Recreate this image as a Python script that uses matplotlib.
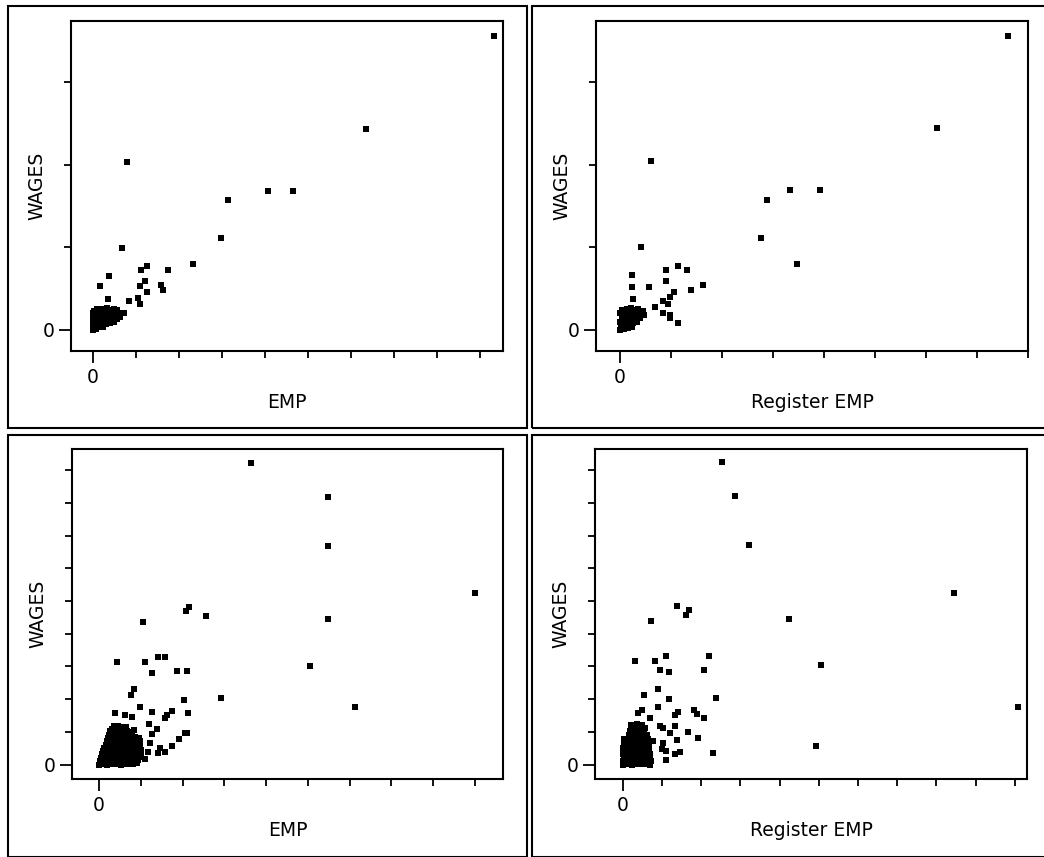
"""
Four WAGES vs EMP scatter panels (EMP and Register EMP), two datasets
"""
import matplotlib
matplotlib.use('Agg')
import matplotlib.pyplot as plt
import matplotlib.patches as patches

W, H = 1044, 857

plt.rcParams['font.family'] = ['DejaVu Sans']
FONT_SIZE = 13.5

# values are in tick steps (axes show only the 0 label)

# top row: first dataset
tl_points = [
    (9.33, 3.56), (6.35, 2.44), (0.79, 2.03), (4.06, 1.68), (4.65, 1.68),
    (3.14, 1.57), (2.98, 1.11), (0.67, 0.99), (2.33, 0.80), (1.25, 0.77),
    (1.12, 0.73), (1.74, 0.73), (0.37, 0.66), (0.16, 0.53), (1.21, 0.59),
    (1.09, 0.53), (1.58, 0.55), (1.63, 0.48), (1.26, 0.46), (0.34, 0.37),
    (0.84, 0.35), (1.05, 0.39), (1.09, 0.32),
]
tl_cluster = [
    (0.00, 0.00), (0.00, 0.05), (0.01, 0.10), (0.00, 0.15), (0.01, 0.20), (0.03, 0.23),
    (0.07, 0.01), (0.08, 0.06), (0.06, 0.11), (0.09, 0.16), (0.07, 0.21), (0.10, 0.25),
    (0.15, 0.03), (0.16, 0.08), (0.14, 0.13), (0.17, 0.18), (0.15, 0.22), (0.19, 0.26),
    (0.23, 0.04), (0.24, 0.10), (0.22, 0.15), (0.25, 0.20), (0.27, 0.25),
    (0.31, 0.07), (0.32, 0.12), (0.30, 0.17), (0.34, 0.22), (0.33, 0.27),
    (0.40, 0.08), (0.41, 0.14), (0.39, 0.19), (0.42, 0.24),
    (0.48, 0.10), (0.49, 0.16), (0.47, 0.21), (0.50, 0.26),
    (0.56, 0.13), (0.57, 0.19), (0.55, 0.24),
    (0.64, 0.16), (0.65, 0.21), (0.72, 0.20),
]

tr_points = [
    (7.61, 3.56), (6.22, 2.45), (0.61, 2.05), (2.88, 1.58), (3.33, 1.70),
    (3.92, 1.70), (2.76, 1.12), (3.47, 0.80), (0.41, 1.00), (1.14, 0.78),
    (1.32, 0.73), (0.90, 0.73), (0.23, 0.67), (0.90, 0.59), (0.23, 0.52),
    (0.57, 0.52), (1.63, 0.55), (1.39, 0.48), (1.05, 0.46), (0.98, 0.40),
    (0.26, 0.37), (0.84, 0.35), (0.69, 0.28), (0.94, 0.32), (0.85, 0.21),
    (0.98, 0.18), (0.98, 0.15), (1.14, 0.08),
]
tr_cluster = [
    (0.00, 0.00), (0.02, 0.05), (0.00, 0.10), (0.03, 0.15), (0.01, 0.20), (0.04, 0.24),
    (0.08, 0.01), (0.10, 0.06), (0.07, 0.11), (0.09, 0.16), (0.11, 0.21), (0.13, 0.26),
    (0.16, 0.02), (0.18, 0.07), (0.15, 0.12), (0.19, 0.17), (0.17, 0.22), (0.22, 0.27),
    (0.24, 0.04), (0.26, 0.09), (0.23, 0.14), (0.27, 0.19), (0.28, 0.24),
    (0.33, 0.10), (0.31, 0.15), (0.35, 0.20), (0.36, 0.25),
    (0.40, 0.14), (0.42, 0.19), (0.47, 0.18), (0.45, 0.23),
]

# bottom row: second dataset
bl_points = [
    (3.64, 9.23), (5.48, 8.19), (5.48, 6.68), (5.48, 4.45), (5.05, 3.01),
    (9.00, 5.25), (6.12, 1.76), (2.91, 2.02),
    (2.08, 4.70), (2.16, 4.83), (2.56, 4.54), (1.06, 4.37), (0.42, 3.14),
    (1.10, 3.14), (1.42, 3.30), (1.58, 3.30), (1.28, 2.81), (1.87, 2.87),
    (2.10, 2.87), (0.84, 2.30), (0.76, 2.13), (2.04, 1.97), (0.98, 1.75),
    (0.38, 1.57), (1.28, 1.61), (1.74, 1.64), (1.62, 1.51), (1.58, 1.41),
    (2.14, 1.57), (0.62, 1.51), (0.78, 1.46), (1.20, 1.24), (1.40, 1.08),
    (1.28, 0.93), (2.06, 0.95), (2.10, 0.97), (1.91, 0.79), (1.74, 0.57),
    (1.22, 0.67), (1.46, 0.51), (1.58, 0.39), (1.42, 0.34), (1.18, 0.39),
    (1.10, 0.16),
]
bl_cluster = [
    (0.00, 0.00), (0.11, 0.02), (0.20, 0.00), (0.31, 0.03), (0.40, 0.01), (0.52, 0.00),
    (0.61, 0.02), (0.70, 0.01), (0.81, 0.03), (0.90, 0.05),
    (0.03, 0.11), (0.15, 0.10), (0.27, 0.12), (0.38, 0.09), (0.49, 0.11), (0.60, 0.12),
    (0.72, 0.10), (0.84, 0.12), (0.94, 0.13),
    (0.05, 0.21), (0.16, 0.19), (0.25, 0.22), (0.36, 0.20), (0.45, 0.18), (0.56, 0.21),
    (0.65, 0.23), (0.76, 0.20), (0.86, 0.22), (0.97, 0.24),
    (0.08, 0.31), (0.19, 0.30), (0.31, 0.32), (0.43, 0.29), (0.54, 0.31), (0.66, 0.30),
    (0.78, 0.32), (0.90, 0.31), (1.00, 0.33),
    (0.10, 0.41), (0.21, 0.39), (0.30, 0.42), (0.41, 0.40), (0.50, 0.38), (0.61, 0.41),
    (0.70, 0.43), (0.81, 0.40), (0.92, 0.42), (1.01, 0.45),
    (0.13, 0.51), (0.25, 0.50), (0.37, 0.52), (0.49, 0.49), (0.62, 0.51), (0.74, 0.50),
    (0.86, 0.52), (0.98, 0.54),
    (0.16, 0.61), (0.27, 0.59), (0.36, 0.62), (0.47, 0.60), (0.56, 0.58), (0.67, 0.61),
    (0.77, 0.63), (0.88, 0.60), (0.98, 0.64),
    (0.19, 0.71), (0.30, 0.70), (0.41, 0.72), (0.52, 0.69), (0.63, 0.71), (0.75, 0.70),
    (0.87, 0.73), (0.97, 0.72),
    (0.22, 0.81), (0.33, 0.79), (0.42, 0.82), (0.53, 0.80), (0.62, 0.78), (0.73, 0.81),
    (0.85, 0.84), (0.96, 0.80),
    (0.25, 0.91), (0.36, 0.90), (0.47, 0.92), (0.58, 0.89), (0.69, 0.91), (0.80, 0.92),
    (0.27, 1.01), (0.38, 0.99), (0.47, 1.02), (0.58, 1.00), (0.67, 1.03), (0.77, 1.00),
    (0.31, 1.08), (0.42, 1.10), (0.62, 1.09), (0.84, 1.06),
    (0.35, 1.17), (0.45, 1.18), (0.55, 1.16), (0.65, 1.15),
]

br_points = [
    (2.53, 9.24), (2.86, 8.20), (3.21, 6.70), (4.23, 4.46), (5.05, 3.03),
    (8.44, 5.26), (10.08, 1.77), (4.94, 0.58),
    (1.37, 4.84), (1.69, 4.74), (1.60, 4.56), (0.73, 4.38), (0.31, 3.16),
    (0.82, 3.16), (1.10, 3.33), (2.19, 3.33), (0.96, 2.88), (1.18, 2.82),
    (2.07, 2.88), (0.90, 2.31), (0.54, 2.14), (2.37, 2.04), (1.18, 1.99),
    (0.90, 1.75), (0.49, 1.68), (0.39, 1.58), (1.41, 1.60), (1.33, 1.50),
    (1.82, 1.68), (1.88, 1.53), (2.07, 1.43), (0.69, 1.43), (1.33, 1.17),
    (0.94, 1.19), (1.03, 1.12), (1.20, 0.97), (1.67, 0.99), (1.92, 0.82),
    (1.37, 0.74), (1.03, 0.66), (0.77, 0.71), (0.99, 0.46), (1.10, 0.41),
    (1.33, 0.33), (1.45, 0.38), (2.29, 0.36), (1.10, 0.13),
]
br_cluster = [
    (0.00, 0.00), (0.12, 0.02), (0.24, 0.00), (0.36, 0.03), (0.48, 0.01), (0.60, 0.02), (0.70, 0.00),
    (0.01, 0.10), (0.13, 0.11), (0.25, 0.09), (0.37, 0.12), (0.49, 0.10), (0.61, 0.11), (0.71, 0.12),
    (0.02, 0.21), (0.14, 0.19), (0.26, 0.22), (0.38, 0.20), (0.50, 0.18), (0.62, 0.21), (0.70, 0.23),
    (0.01, 0.31), (0.13, 0.30), (0.25, 0.32), (0.37, 0.29), (0.49, 0.31), (0.61, 0.30), (0.69, 0.33),
    (0.00, 0.41), (0.12, 0.39), (0.24, 0.42), (0.36, 0.40), (0.48, 0.38), (0.60, 0.41), (0.68, 0.43),
    (0.01, 0.51), (0.13, 0.50), (0.25, 0.52), (0.37, 0.49), (0.49, 0.51), (0.61, 0.50), (0.67, 0.53),
    (0.02, 0.61), (0.14, 0.59), (0.26, 0.62), (0.38, 0.60), (0.50, 0.58), (0.62, 0.61),
    (0.03, 0.70), (0.15, 0.71), (0.27, 0.69), (0.39, 0.72), (0.51, 0.70), (0.63, 0.71),
    (0.04, 0.79), (0.16, 0.81), (0.28, 0.78), (0.40, 0.82), (0.52, 0.80), (0.64, 0.79),
    (0.17, 0.90), (0.29, 0.91), (0.41, 0.89), (0.53, 0.92), (0.62, 0.90),
    (0.18, 1.01), (0.30, 0.99), (0.42, 1.02), (0.54, 1.00),
    (0.20, 1.10), (0.33, 1.12), (0.46, 1.09), (0.57, 1.11),
    (0.22, 1.20), (0.36, 1.24), (0.50, 1.21),
]

# pixel boxes (left, top, right, bottom) and axis ranges per panel
panels = [
    dict(box=(71, 21, 503, 351), xlim=(-0.51, 9.53), ylim=(-0.255, 3.745),
         nx=9, ny=3, xlabel='EMP', pts=tl_points + tl_cluster),
    dict(box=(596, 21, 1028, 351), xlim=(-0.47, 8.0), ylim=(-0.255, 3.745),
         nx=8, ny=3, xlabel='Register EMP', pts=tr_points + tr_cluster),
    dict(box=(72, 449, 503, 779), xlim=(-0.646, 9.67), ylim=(-0.443, 9.65),
         nx=9, ny=9, xlabel='EMP', pts=bl_points + bl_cluster),
    dict(box=(595, 449, 1027, 779), xlim=(-0.71, 10.31), ylim=(-0.443, 9.65),
         nx=10, ny=9, xlabel='Register EMP', pts=br_points + br_cluster),
]

# outer frames (left, top, right, bottom) in pixels
frames = [(8, 6, 527, 428), (532, 6, 1060, 428), (8, 435, 527, 856.5), (532, 435, 1060, 856.5)]


def fx(px):
    return px / W


def fy(py):
    return 1 - py / H


fig = plt.figure(figsize=(W / 100, H / 100), dpi=100)
fig.patch.set_facecolor('white')

for l, t, r, b in frames:
    rect = patches.Rectangle((fx(l), fy(b)), fx(r) - fx(l), fy(t) - fy(b),
                             transform=fig.transFigure, fill=False,
                             edgecolor='black', linewidth=1.5)
    fig.add_artist(rect)

for p in panels:
    l, t, r, b = p['box']
    ax = fig.add_axes([fx(l), fy(b), fx(r) - fx(l), fy(t) - fy(b)])
    xs = [pt[0] for pt in p['pts']]
    ys = [pt[1] for pt in p['pts']]
    ax.plot(xs, ys, 's', color='black', markersize=4.8, markeredgewidth=0)
    ax.set_xlim(*p['xlim'])
    ax.set_ylim(*p['ylim'])

    ax.set_xticks([0])
    ax.set_xticklabels(['0'])
    ax.set_yticks([0])
    ax.set_yticklabels(['0'])
    ax.set_xticks(range(1, p['nx'] + 1), minor=True)
    ax.set_yticks(range(1, p['ny'] + 1), minor=True)
    ax.tick_params(which='major', direction='out', length=8.5, width=1.3,
                   labelsize=FONT_SIZE, pad=3.5)
    ax.tick_params(which='minor', direction='out', length=5, width=1.3)
    for s in ax.spines.values():
        s.set_linewidth(1.5)

    cx = (l + r) / 2
    cy = (t + b) / 2
    fig.text(fx(cx), fy(b + 51), p['xlabel'], ha='center', va='center',
             fontsize=FONT_SIZE)
    fig.text(fx(l - 34), fy(cy), 'WAGES', ha='center', va='center',
             rotation=90, fontsize=FONT_SIZE)

fig.savefig('out.png', dpi=100)
